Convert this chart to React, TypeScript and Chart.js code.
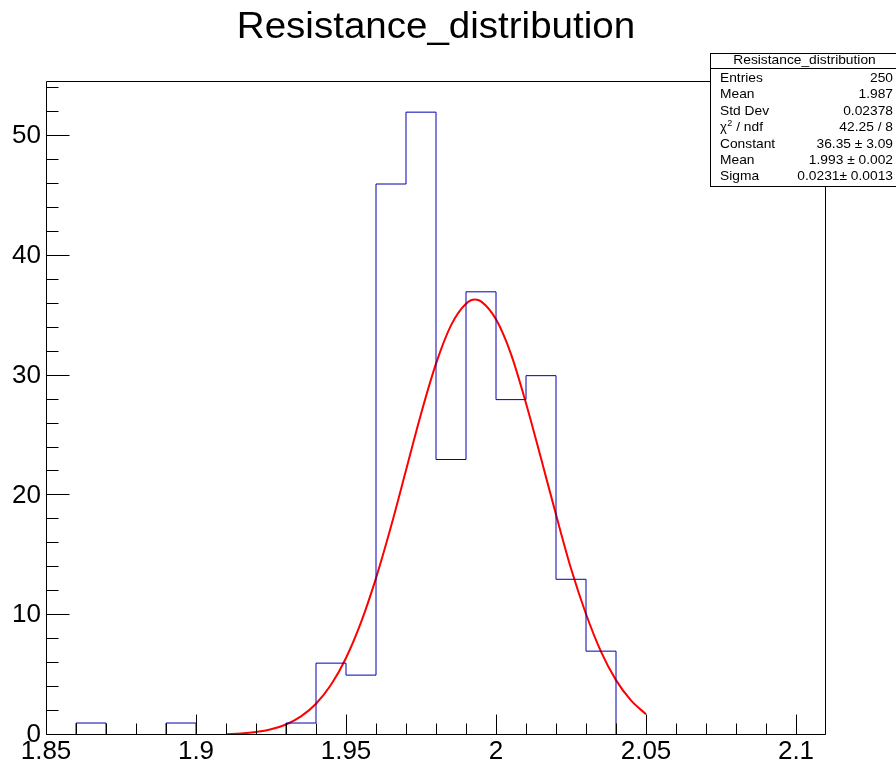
import React, { useEffect, useRef } from 'react';
import { Chart, registerables } from 'chart.js';

Chart.register(...registerables);

const titleText = 'Resistance_distribution';

// Histogram bins (lower edges, width 0.01) and counts
const binLowEdges = [
  1.85, 1.86, 1.87, 1.88, 1.89, 1.9, 1.91, 1.92, 1.93, 1.94, 1.95, 1.96, 1.97,
  1.98, 1.99, 2.0, 2.01, 2.02, 2.03, 2.04, 2.05, 2.06, 2.07, 2.08, 2.09, 2.1,
];
const binUpperEdge = 2.11;
const binCounts = [
  0, 1, 0, 0, 1, 0, 0, 0, 1, 6, 5, 46, 52, 23, 37, 28, 30, 13, 7, 0, 0, 0, 0, 0, 0, 0,
];

// Fitted curve
const fitX = [
  1.91, 1.915, 1.92, 1.925, 1.93, 1.935, 1.94, 1.945, 1.95, 1.955, 1.96, 1.965,
  1.97, 1.975, 1.98, 1.985, 1.99, 1.993, 1.995, 2.0, 2.005, 2.01, 2.015, 2.02,
  2.025, 2.03, 2.035, 2.04, 2.045, 2.05,
];
const fitY = [
  0.06, 0.12, 0.25, 0.48, 0.88, 1.55, 2.61, 4.19, 6.43, 9.4, 13.1, 17.4,
  22.1, 26.8, 31.0, 34.2, 36.0, 36.35, 36.2, 34.7, 31.8, 27.7, 23.1, 18.4,
  13.9, 10.1, 6.96, 4.58, 2.89, 1.73,
];

const xTickValues = [1.85, 1.9, 1.95, 2, 2.05, 2.1];
const xTickLabels = ['1.85', '1.9', '1.95', '2', '2.05', '2.1'];
const yTickValues = [0, 10, 20, 30, 40, 50];
const yTickLabels = ['0', '10', '20', '30', '40', '50'];

const statsLabels = ['Entries', 'Mean', 'Std Dev', 'CHI', 'Constant', 'Mean', 'Sigma'];
const statsValues = [
  '250', '1.987', '0.02378', '42.25 / 8', '36.35 \u00b1 3.09', '1.993 \u00b1 0.002', '0.0231\u00b1 0.0013',
];

const X_MIN = 1.85;
const X_MAX = 2.11;
const Y_MIN = 0;
const Y_MAX = 54.6;

const FONT = '"Liberation Sans", Arial, Helvetica, sans-serif';

function stretchedText(ctx: any, text: string, x: number, y: number, sx: number, align: string) {
  ctx.save();
  ctx.translate(x, y);
  ctx.scale(sx, 1);
  ctx.textAlign = align;
  ctx.fillText(text, 0, 0);
  ctx.restore();
}

const rootStylePlugin = {
  id: 'rootStyle',
  afterDatasetsDraw(chart: any) {
    const { ctx, chartArea: a, scales } = chart;
    const xs = scales.x;
    const ys = scales.y;
    ctx.save();
    ctx.strokeStyle = '#000';
    ctx.lineWidth = 1;
    const L = Math.round(a.left) + 0.5;
    const T = Math.round(a.top) + 0.5;
    const R = Math.round(a.right) - 0.5;
    const B = Math.round(a.bottom) - 0.5;
    ctx.beginPath();
    ctx.moveTo(L, T);
    ctx.lineTo(R, T);
    ctx.lineTo(R, B);
    ctx.lineTo(L, B);
    ctx.closePath();
    ctx.stroke();
    ctx.beginPath();
    for (let i = 0; i * 2 <= Y_MAX; i++) {
      const v = i * 2;
      const y = Math.round(ys.getPixelForValue(v)) - 0.5;
      const len = v % 10 === 0 ? 23 : 12;
      ctx.moveTo(L, y);
      ctx.lineTo(L + len, y);
    }
    for (let i = 0; i <= 25; i++) {
      const v = X_MIN + i * 0.01;
      const x = Math.round(xs.getPixelForValue(v)) + 0.5;
      const len = i % 5 === 0 ? 20 : 11;
      ctx.moveTo(x, B);
      ctx.lineTo(x, B - len);
    }
    ctx.stroke();
    ctx.restore();
  },
  afterDraw(chart: any) {
    const { ctx } = chart;
    ctx.save();
    // Title
    ctx.fillStyle = '#000';
    ctx.font = `36px ${FONT}`;
    ctx.textBaseline = 'alphabetic';
    stretchedText(ctx, titleText, 436, 37.5, 1.07, 'center');

    // Stats box
    const bx = 710.5;
    const by = 53.5;
    const bw = 192;
    const bh = 133;
    ctx.fillStyle = '#fff';
    ctx.fillRect(bx, by, bw, bh);
    ctx.strokeStyle = '#000';
    ctx.lineWidth = 1;
    ctx.strokeRect(bx, by, bw, bh);
    ctx.beginPath();
    ctx.moveTo(bx, 68.5);
    ctx.lineTo(bx + bw, 68.5);
    ctx.stroke();

    ctx.fillStyle = '#000';
    ctx.font = `13px ${FONT}`;
    stretchedText(ctx, titleText, 804.5, 64, 1.06, 'center');

    for (let i = 0; i < statsLabels.length; i++) {
      const base = 82 + i * 16.4;
      ctx.font = `13px ${FONT}`;
      if (statsLabels[i] === 'CHI') {
        ctx.textAlign = 'left';
        ctx.fillText('\u03c7', 720, base);
        const w = ctx.measureText('\u03c7').width;
        ctx.font = `9px ${FONT}`;
        ctx.fillText('2', 720 + w + 0.5, base - 5);
        const w2 = ctx.measureText('2').width;
        ctx.font = `13px ${FONT}`;
        stretchedText(ctx, ' / ndf', 720 + w + w2 + 0.5, base, 1.06, 'left');
      } else {
        stretchedText(ctx, statsLabels[i], 720, base, 1.06, 'left');
      }
      stretchedText(ctx, statsValues[i], 893, base, 1.06, 'right');
    }
    ctx.restore();
  },
};

export default function App() {
  const canvasRef = useRef<HTMLCanvasElement | null>(null);

  useEffect(() => {
    const canvas = canvasRef.current;
    if (!canvas) return;

    const histData = binLowEdges.map((x, i) => ({ x, y: binCounts[i] }));
    histData.push({ x: binUpperEdge, y: 0 });
    const fitData = fitX.map((x, i) => ({ x, y: fitY[i] }));

    const chart = new Chart(canvas, {
      type: 'line',
      data: {
        datasets: [
          {
            label: 'Resistance',
            data: histData,
            stepped: true,
            borderColor: '#0000b4',
            borderWidth: 1,
            pointRadius: 0,
            fill: false,
            clip: 0,
          },
          {
            label: 'fit',
            data: fitData,
            borderColor: '#ff0000',
            borderWidth: 2,
            pointRadius: 0,
            cubicInterpolationMode: 'monotone',
            fill: false,
          },
        ],
      },
      options: {
        responsive: false,
        animation: false,
        events: [],
        layout: {
          autoPadding: false,
          padding: { top: 81, right: 70, left: 0, bottom: 0 },
        },
        plugins: {
          legend: { display: false },
          tooltip: { enabled: false },
          title: { display: false },
        },
        scales: {
          x: {
            type: 'linear',
            min: X_MIN,
            max: X_MAX,
            grid: { display: false, drawTicks: false },
            border: { display: false },
            afterBuildTicks: (s: any) => {
              s.ticks = xTickValues.map((v) => ({ value: v }));
            },
            afterFit: (s: any) => {
              s.height = 32;
            },
            ticks: {
              autoSkip: false,
              maxRotation: 0,
              minRotation: 0,
              padding: 1,
              color: '#000',
              font: { family: FONT, size: 26 },
              callback: (v: any) => {
                const idx = xTickValues.findIndex((t) => Math.abs(t - Number(v)) < 1e-9);
                return idx >= 0 ? xTickLabels[idx] : '';
              },
            },
          },
          y: {
            type: 'linear',
            min: Y_MIN,
            max: Y_MAX,
            grid: { display: false, drawTicks: false },
            border: { display: false },
            afterBuildTicks: (s: any) => {
              s.ticks = yTickValues.map((v) => ({ value: v }));
            },
            afterFit: (s: any) => {
              s.width = 46;
            },
            ticks: {
              autoSkip: false,
              padding: 5,
              color: '#000',
              font: { family: FONT, size: 26 },
              callback: (v: any) => {
                const idx = yTickValues.findIndex((t) => Math.abs(t - Number(v)) < 1e-9);
                return idx >= 0 ? yTickLabels[idx] : '';
              },
            },
          },
        },
      },
      plugins: [rootStylePlugin],
    } as any);

    return () => {
      chart.destroy();
    };
  }, []);

  return (
    <div style={{ position: 'absolute', left: 0, top: 0, width: 896, height: 767, background: '#fff' }}>
      <canvas ref={canvasRef} width={896} height={767} />
    </div>
  );
}
